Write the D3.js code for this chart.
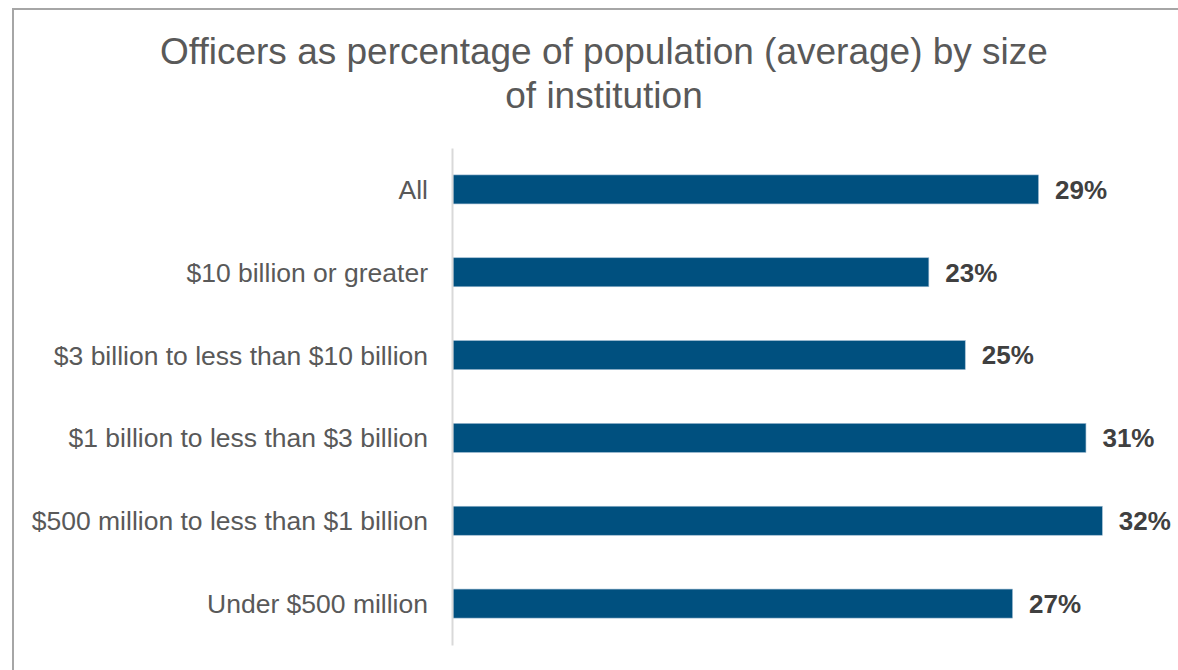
<!DOCTYPE html>
<html>
<head>
<meta charset="utf-8">
<script src="https://cdn.jsdelivr.net/npm/d3@7"></script>
<style>
  html, body { margin: 0; padding: 0; background: #ffffff; }
  svg { display: block; }
</style>
</head>
<body>
<svg id="chart" width="1178" height="670"></svg>
<script>
const titleLines = ["Officers as percentage of population (average) by size", "of institution"];
const categories = [
  "All",
  "$10 billion or greater",
  "$3 billion to less than $10 billion",
  "$1 billion to less than $3 billion",
  "$500 million to less than $1 billion",
  "Under $500 million"
];
const values = [28.62, 23.26, 25.04, 30.94, 31.74, 27.35];
const valueLabels = ["29%", "23%", "25%", "31%", "32%", "27%"];
const xDomain = [0, 35];

const svg = d3.select("#chart");
const W = 1178, H = 670;

// frame
svg.append("rect")
  .attr("x", 13).attr("y", 9)
  .attr("width", W + 20).attr("height", H + 20)
  .attr("fill", "none").attr("stroke", "#a6a6a6").attr("stroke-width", 2);

// title
const title = svg.append("text")
  .attr("text-anchor", "middle")
  .attr("font-family", "Liberation Sans, Arial, sans-serif")
  .attr("font-size", 37)
  .attr("fill", "#595959");
titleLines.forEach((t, i) => {
  title.append("tspan").attr("x", 604).attr("y", 64 + i * 44).text(t);
});

const x = d3.scaleLinear().domain(xDomain).range([453, 1169]);
const y = d3.scaleBand().domain(categories).range([148, 645]).paddingInner(0.65).paddingOuter(0.325);

// bars
svg.append("g").selectAll("rect")
  .data(categories)
  .join("rect")
  .attr("x", x(0))
  .attr("y", d => y(d))
  .attr("width", (d, i) => x(values[i]) - x(0))
  .attr("height", y.bandwidth())
  .attr("fill", "#00507f")
  .attr("stroke", "#9ab8cf")
  .attr("stroke-width", 0.6);

// axis (category)
const yAxis = d3.axisLeft(y).tickSize(0).tickPadding(24);
const ag = svg.append("g").attr("transform", `translate(${x(0) - 1},0)`).call(yAxis);
ag.select(".domain").attr("stroke", "#d9d9d9").attr("stroke-width", 2);
ag.selectAll("text")
  .attr("font-family", "Liberation Sans, Arial, sans-serif")
  .attr("font-size", 26.5)
  .attr("fill", "#595959")
  .attr("dy", "0.36em");

// value labels
svg.append("g").selectAll("text")
  .data(categories)
  .join("text")
  .attr("x", (d, i) => x(values[i]) + 16.5)
  .attr("y", d => y(d) + y.bandwidth() / 2)
  .attr("dy", "0.36em")
  .attr("font-family", "Liberation Sans, Arial, sans-serif")
  .attr("font-weight", "bold")
  .attr("font-size", 26)
  .attr("fill", "#404040")
  .text((d, i) => valueLabels[i]);
</script>
</body>
</html>
